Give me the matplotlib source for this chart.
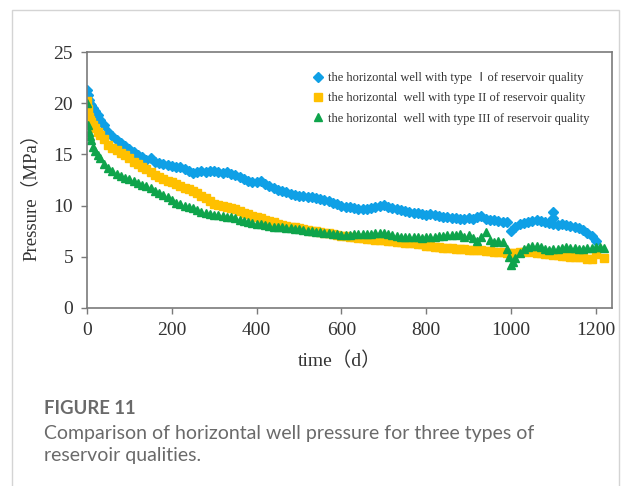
import numpy as np
import matplotlib
matplotlib.use("Agg")
import matplotlib.pyplot as plt
from matplotlib.patches import Rectangle

#### data

days = [0, 2, 4, 7, 10, 15, 20, 25, 30] + list(range(40, 1230, 10))

p_type1 = [21.3, 20.8, 20.3, 19.9, 19.8, 19.5, 19.2, 18.8, 18.4,
           17.9, 17.2, 16.8, 16.4, 16.1, 15.8, 15.5, 15.2, 14.9, 14.7,
           14.5, 14.6, 14.3, 14.2, 14.1, 14.0, 13.9, 13.8, 13.8, 13.6,
           13.4, 13.2, 13.3, 13.4, 13.3, 13.4, 13.4, 13.3, 13.2, 13.3,
           13.1, 13.0, 12.8, 12.6, 12.4, 12.3, 12.3, 12.4, 12.1, 11.9,
           11.7, 11.5, 11.4, 11.3, 11.1, 11.0, 10.9, 10.9, 10.8, 10.8,
           10.7, 10.6, 10.5, 10.4, 10.3, 10.2, 10.0, 9.9, 9.9, 9.8,
           9.7, 9.7, 9.7, 9.8, 9.9, 10.0, 10.1, 9.9, 9.8, 9.7,
           9.6, 9.5, 9.4, 9.3, 9.3, 9.2, 9.1, 9.2, 9.1, 9.0,
           8.9, 8.9, 8.8, 8.8, 8.7, 8.7, 8.8, 8.7, 8.9, 9.0,
           8.7, 8.6, 8.6, 8.5, 8.4, 8.4, 7.5, 7.9, 8.2, 8.3,
           8.4, 8.5, 8.6, 8.5, 8.4, 8.3, 8.2, 8.1, 8.2, 8.1,
           8.0, 7.9, 7.8, 7.6, 7.3, 7.0, 6.5, np.nan, np.nan]

p_type2 = [20.2, 19.4, 18.7, 18.4, 18.2, 17.9, 17.6, 17.2, 16.9,
           16.5, 15.9, 15.6, 15.4, 15.1, 14.9, 14.6, 14.3, 14.1, 13.8,
           13.6, 13.3, 13.0, 12.8, 12.6, 12.4, 12.3, 12.1, 11.9, 11.7,
           11.6, 11.4, 11.2, 10.9, 10.7, 10.4, 10.2, 10.1, 10.0, 9.9,
           9.8, 9.7, 9.5, 9.3, 9.2, 9.0, 8.9, 8.8, 8.6, 8.5,
           8.4, 8.2, 8.1, 8.0, 7.9, 7.9, 7.8, 7.7, 7.6, 7.5,
           7.5, 7.4, 7.3, 7.3, 7.2, 7.1, 7.0, 7.0, 6.9, 6.9,
           6.8, 6.8, 6.7, 6.7, 6.6, 6.6, 6.6, 6.5, 6.5, 6.4,
           6.4, 6.3, 6.3, 6.3, 6.2, 6.2, 6.1, 6.1, 6.0, 6.0,
           5.9, 5.9, 5.9, 5.8, 5.8, 5.8, 5.7, 5.7, 5.7, 5.7,
           5.6, 5.6, 5.5, 5.5, 5.5, 5.4, 5.4, 5.4, 5.5, 5.5,
           5.6, 5.5, 5.4, 5.4, 5.3, 5.3, 5.2, 5.2, 5.1, 5.1,
           5.0, 5.0, 5.0, 5.0, 4.8, 4.8, 5.3, np.nan, 4.9]

p_type3 = [20.0, 17.9, 17.2, 16.8, 16.4, 15.7, 15.3, 14.9, 14.6,
           14.1, 13.7, 13.4, 13.1, 12.9, 12.7, 12.6, 12.4, 12.2, 12.0,
           11.9, 11.7, 11.4, 11.2, 11.0, 10.8, 10.5, 10.3, 10.2, 10.0,
           9.9, 9.8, 9.6, 9.4, 9.3, 9.2, 9.1, 9.1, 9.0, 8.9,
           8.9, 8.8, 8.6, 8.5, 8.4, 8.3, 8.2, 8.2, 8.1, 8.0,
           7.9, 7.9, 7.9, 7.8, 7.8, 7.7, 7.7, 7.6, 7.5, 7.5,
           7.4, 7.4, 7.3, 7.3, 7.2, 7.2, 7.1, 7.1, 7.1, 7.2,
           7.2, 7.2, 7.2, 7.2, 7.3, 7.3, 7.3, 7.2, 7.1, 7.0,
           6.9, 6.9, 6.9, 6.9, 6.9, 6.8, 6.9, 6.9, 6.9, 7.0,
           7.0, 7.1, 7.1, 7.1, 7.2, 6.9, 7.1, 6.8, 6.5, 6.9,
           7.4, 6.6, 6.4, 6.5, 6.4, 5.8, 4.2, 4.9, 5.4, 5.8,
           6.0, 6.1, 6.1, 6.0, 5.8, 5.7, 5.8, 5.8, 5.9, 6.0,
           5.9, 5.9, 5.8, 5.8, 5.9, 5.9, 6.0, 6.0, 5.9]

# a few off-grid points: the spike on type I and the drop of type III near 1000 d
spike1_days = [1100, 1100]
spike1_p = [9.4, 8.8]
jump3_days = [995, 1005]
jump3_p = [5.0, 4.5]

labels = ["the horizontal well with type \u2160of reservoir quality",
          "the horizontal  well with type II of reservoir quality",
          "the horizontal  well with type III of reservoir quality"]
colors = ["#0FA0E6", "#FFC000", "#0EA44B"]

#### figure

serif = ["Liberation Serif", "Noto Sans CJK SC", "DejaVu Serif"]
axis_grey = "#7a7a7a"
text_col = "#333333"

fig = plt.figure(figsize=(6.25, 4.86), dpi=100)
fig.patch.set_facecolor("white")

# light frame around the whole panel
fig.patches.append(Rectangle((0.0192, -0.05), 0.9712, 1.0294,
                             transform=fig.transFigure, fill=False,
                             edgecolor="#d4d4d4", linewidth=1.0))

ax = fig.add_axes([0.1392, 0.3663, 0.840, 0.5267])

ms_main = 5.5
ax.plot(days, p_type1, ls="none", marker="D", ms=ms_main, color=colors[0],
        mec=colors[0], label=labels[0])
ax.plot(spike1_days, spike1_p, ls="none", marker="D", ms=ms_main,
        color=colors[0], mec=colors[0])
ax.plot(days, p_type2, ls="none", marker="s", ms=ms_main, color=colors[1],
        mec=colors[1], label=labels[1])
ax.plot(days, p_type3, ls="none", marker="^", ms=ms_main + 0.5,
        color=colors[2], mec=colors[2], label=labels[2])
ax.plot(jump3_days, jump3_p, ls="none", marker="^", ms=ms_main + 0.5,
        color=colors[2], mec=colors[2])

ax.set_xlim(0, 1238)
ax.set_ylim(0, 25)
ax.set_xticks([0, 200, 400, 600, 800, 1000, 1200])
ax.set_yticks([0, 5, 10, 15, 20, 25])

for side in ax.spines.values():
    side.set_color(axis_grey)
    side.set_linewidth(1.2)
ax.tick_params(direction="out", length=4, width=1, color=axis_grey,
               labelsize=14, labelcolor=text_col, pad=6)
for lab in ax.get_xticklabels() + ax.get_yticklabels():
    lab.set_family(serif)

ax.set_xlabel("time\uff08d\uff09", family=serif, fontsize=14,
              color=text_col)
ax.set_ylabel("Pressure\uff08MPa\uff09", family=serif, fontsize=13.5,
              color=text_col)
ax.xaxis.set_label_coords(0.482, -0.172)
ax.yaxis.set_label_coords(-0.09, 0.449)

leg = ax.legend(loc="upper left", bbox_to_anchor=(0.42, 0.94),
                frameon=False, handlelength=0.8, handletextpad=0.4,
                labelspacing=0.65, borderaxespad=0,
                prop={"family": serif, "size": 9.0})
for t in leg.get_texts():
    t.set_color(text_col)

# caption
cap_col = "#6a6a6a"
fig.text(44 / 625, 1 - 408 / 486, "FIGURE 11", family="Lato",
         fontweight="bold", fontsize=13.3, color=cap_col, va="center")
fig.text(44 / 625, 1 - 433 / 486,
         "Comparison of horizontal well pressure for three types of",
         family="Lato", fontsize=14, color=cap_col, va="center")
fig.text(44 / 625, 1 - 456 / 486, "reservoir qualities.",
         family="Lato", fontsize=14, color=cap_col, va="center")

fig.savefig("out.png", dpi=100)
